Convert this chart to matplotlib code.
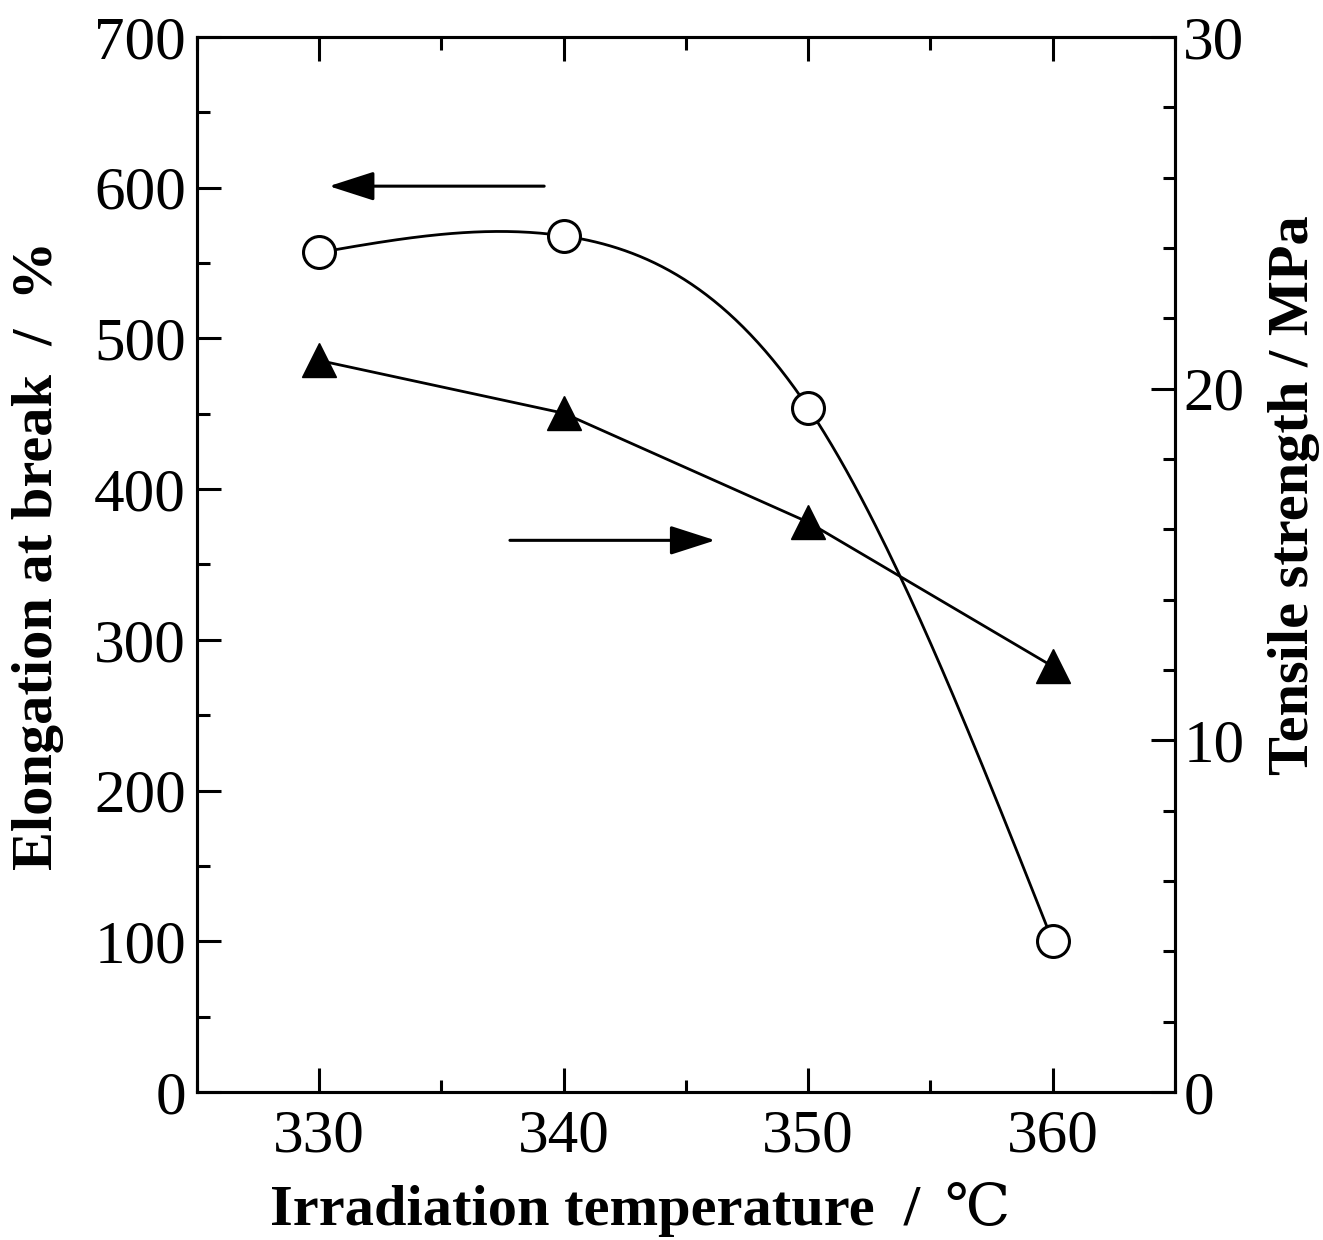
import numpy as np
import matplotlib
matplotlib.use("Agg")
import matplotlib.pyplot as plt
from matplotlib.ticker import MultipleLocator

plt.rcParams["font.family"] = ["Liberation Serif", "DejaVu Serif"]

# data
temperature = [330, 340, 350, 360]
elongation = [557, 568, 454, 100]          # left axis, %
tensile = [20.8, 19.3, 16.2, 12.1]         # right axis, MPa


def natural_spline(x, y, n=200):
    """Smooth curve through the points (natural cubic spline), for drawing only."""
    x = np.asarray(x, float)
    y = np.asarray(y, float)
    k = len(x)
    h = np.diff(x)
    A = np.zeros((k, k))
    b = np.zeros(k)
    A[0, 0] = A[-1, -1] = 1.0
    for i in range(1, k - 1):
        A[i, i - 1] = h[i - 1]
        A[i, i] = 2 * (h[i - 1] + h[i])
        A[i, i + 1] = h[i]
        b[i] = 6 * ((y[i + 1] - y[i]) / h[i] - (y[i] - y[i - 1]) / h[i - 1])
    M = np.linalg.solve(A, b)
    xs = np.linspace(x[0], x[-1], n)
    idx = np.clip(np.searchsorted(x, xs) - 1, 0, k - 2)
    x0, x1 = x[idx], x[idx + 1]
    hh = x1 - x0
    t0, t1 = x1 - xs, xs - x0
    ys = (M[idx] * t0**3 + M[idx + 1] * t1**3) / (6 * hh) \
        + (y[idx] / hh - M[idx] * hh / 6) * t0 \
        + (y[idx + 1] / hh - M[idx + 1] * hh / 6) * t1
    return xs, ys


fig = plt.figure(figsize=(13.23, 12.40), dpi=100)
ax = fig.add_axes([0.1489, 0.1194, 0.7392, 0.8508])
ax2 = ax.twinx()

LW = 2.2
TICK_FS = 44
LABEL_FS = 42

# elongation: smooth curve + open circles
xs, ys = natural_spline(temperature, elongation)
ax.plot(xs, ys, color="black", lw=2.0, zorder=2)
ax.plot(temperature, elongation, "o", ms=23, mfc="white", mec="black",
        mew=2.2, zorder=3, clip_on=False)

# tensile strength: straight segments + filled triangles
ax2.plot(temperature, tensile, color="black", lw=2.0, marker="^", ms=25,
         mfc="black", mec="black", zorder=3, clip_on=False)

ax.set_xlim(325, 365)
ax.set_ylim(0, 700)
ax2.set_ylim(0, 30)

ax.xaxis.set_major_locator(MultipleLocator(10))
ax.xaxis.set_minor_locator(MultipleLocator(5))
ax.yaxis.set_major_locator(MultipleLocator(100))
ax.yaxis.set_minor_locator(MultipleLocator(50))
ax2.yaxis.set_major_locator(MultipleLocator(10))
ax2.yaxis.set_minor_locator(MultipleLocator(2))

ax.tick_params(axis="x", which="both", direction="in", top=True, bottom=True,
               width=LW, labelsize=TICK_FS, pad=12)
ax.tick_params(axis="y", which="both", direction="in", left=True, right=False,
               width=LW, labelsize=TICK_FS, pad=8)
ax.tick_params(which="major", length=17)
ax.tick_params(which="minor", length=9)
ax2.tick_params(axis="y", which="both", direction="in", width=LW,
                labelsize=TICK_FS, pad=6)
ax2.tick_params(which="major", length=17)
ax2.tick_params(which="minor", length=9)

for a in (ax, ax2):
    for s in a.spines.values():
        s.set_linewidth(LW)

ax.set_ylabel("Elongation at break  /  %", fontsize=LABEL_FS,
              fontweight="bold")
ax.yaxis.set_label_coords(-0.136, 0.509)
ax2.set_ylabel("Tensile strength / MPa", fontsize=LABEL_FS,
               fontweight="bold")
ax2.yaxis.set_label_coords(1.095, 0.566)

# x label: bold words, then a regular-weight degree-Celsius sign
xl = fig.text(270 / 1323, 1 - 1225 / 1240, "Irradiation temperature  /",
              fontsize=LABEL_FS, fontweight="bold", ha="left", va="baseline")
fig.canvas.draw()
bb = xl.get_window_extent(renderer=fig.canvas.get_renderer())
fig.text((bb.x1 + 24) / fig.bbox.width, 1 - 1225 / 1240, "\u2103",
         fontsize=LABEL_FS, family=["DejaVu Serif"], ha="left", va="baseline")

# arrows pointing to the axis each series belongs to
arrow_kw = dict(arrowstyle="-|>,head_length=1.4,head_width=0.45",
                color="black", lw=2.2, mutation_scale=20, shrinkA=0, shrinkB=0)
ax.annotate("", xy=(330.4, 601), xytext=(339.2, 601), arrowprops=arrow_kw)
ax.annotate("", xy=(346.2, 366), xytext=(337.8, 366), arrowprops=arrow_kw)

fig.savefig("out.png", dpi=100, facecolor="white")
